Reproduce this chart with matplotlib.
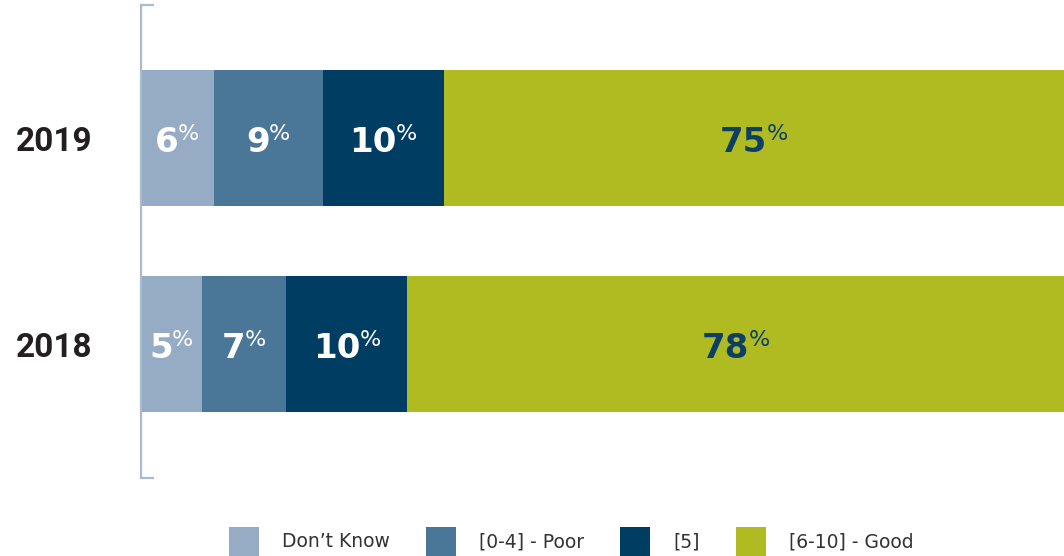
import matplotlib.pyplot as plt
import numpy as np
from matplotlib.patches import Patch
from matplotlib.transforms import offset_copy

plt.rcParams['font.family'] = ['Roboto', 'DejaVu Sans']

# survey answers, share of respondents (%)
years = ['2018', '2019']
dont_know = [5, 6]
poor = [7, 9]
neutral = [10, 10]
good = [78, 75]

categories = ["Don\u2019t Know", '[0-4] - Poor', '[5]', '[6-10] - Good']
colors = ['#96abc4', '#4a7697', '#003d63', '#afbb21']
label_colors = ['white', 'white', 'white', '#0d3f66']

fig = plt.figure(figsize=(10.64, 5.56), dpi=100)
ax = fig.add_axes([141 / 1064, 78 / 556, 923 / 1064, 473 / 556])
renderer = fig.canvas.get_renderer()

x_max = 76.2
num_size = 24.5
pct_size = 16
cap_px = 0.729 * num_size * fig.dpi / 72


def value_label(xc, yc, v, color):
    # big bold number with a small raised percent sign, centred as a pair
    num = ax.text(xc, yc, '%d' % v, ha='left', va='baseline', color=color,
                  fontsize=num_size, fontweight='bold', family='DejaVu Sans')
    pct = ax.text(xc, yc, '%', ha='left', va='baseline', color=color,
                  fontsize=pct_size, family='DejaVu Sans')
    nw = num.get_window_extent(renderer).width
    pw = pct.get_window_extent(renderer).width
    gap = -1
    total = nw + gap + pw
    base = -cap_px / 2 - 1.5
    num.set_transform(offset_copy(ax.transData, fig, x=-total / 2, y=base, units='dots'))
    pct.set_transform(offset_copy(ax.transData, fig, x=-total / 2 + nw + gap,
                                  y=base + 12, units='dots'))


y = np.arange(len(years))
series = [dont_know, poor, neutral, good]
left = np.zeros(len(years))
for vals, col, tcol in zip(series, colors, label_colors):
    vals = np.array(vals, dtype=float)
    ax.barh(y, vals, left=left, height=0.66, color=col, linewidth=0)
    for yi, l, v in zip(y, left, vals):
        # label sits in the middle of the visible part of the segment
        xc = (l + min(l + v, x_max)) / 2
        value_label(xc, yi, v, tcol)
    left += vals

ax.set_xlim(0, x_max)
ax.set_ylim(-0.65, 1.646)
ax.set_yticks(y)
ax.set_yticklabels(years, fontsize=24, fontweight='bold', color='#231f20')
ax.tick_params(axis='y', length=0, pad=35)
ax.set_xticks([])
for s in ['top', 'right', 'bottom']:
    ax.spines[s].set_visible(False)
ax.spines['left'].set_color('#a9bccd')
ax.spines['left'].set_linewidth(1.6)
# small end caps on the bracket
for yy in [0, 1]:
    ax.plot([0, 0.014], [yy, yy], transform=ax.transAxes, color='#a9bccd',
            lw=1.6, clip_on=False, solid_capstyle='butt')

handles = [Patch(facecolor=c, edgecolor='none', label=n) for c, n in zip(colors, categories)]
fig.legend(handles=handles, loc='center', bbox_to_anchor=(0.537, 0.026), ncol=4,
           frameon=False, prop={'family': 'DejaVu Sans', 'size': 13.5},
           handlelength=1.6, handleheight=2.08, borderpad=0,
           handletextpad=1.25, columnspacing=1.9, labelcolor='#333333')

fig.savefig('out.png', dpi=100)
